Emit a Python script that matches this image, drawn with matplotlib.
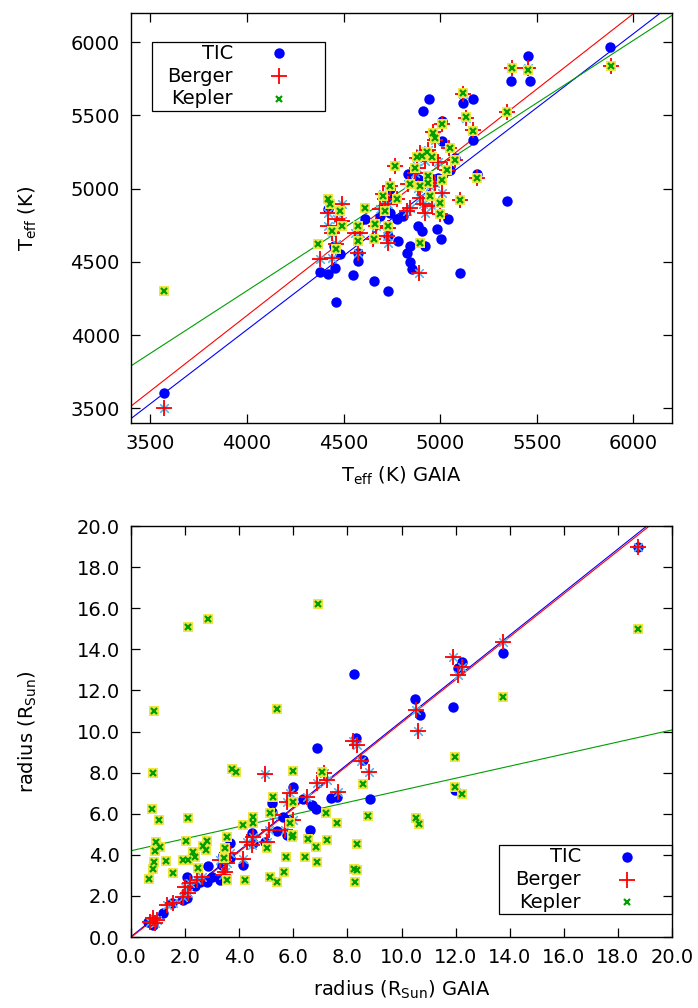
import matplotlib
matplotlib.use("Agg")
import matplotlib.pyplot as plt
import numpy as np
from matplotlib.patches import Rectangle

plt.rcParams['font.family'] = ['DejaVu Sans']
plt.rcParams['mathtext.fontset'] = 'dejavusans'

# ---- top panel: effective temperature ----
teff_tic_x = [3571, 4944, 4910, 5120, 5172, 5365, 5465, 5455, 5879, 5008, 5008, 4965, 5172, 5077,
              5051, 5189, 5348, 4965, 4991, 4836, 4887, 4741, 4715, 4775, 4741, 4810, 4887, 4905,
              4922, 4982, 5005, 5039, 5103, 4844, 4827, 4844, 4853, 4784, 4732, 4655, 4551, 4461,
              4378, 4422, 4456, 4482, 4448, 4422, 4611, 4577, 4577, 4689, 4706, 4732, 4749]
teff_tic_y = [3605, 5615, 5528, 5585, 5615, 5737, 5733, 5907, 5968, 5460, 5324, 5369, 5335, 5210,
              5131, 5097, 4915, 5063, 5074, 5097, 5063, 4995, 4870, 4790, 4836, 4813, 4745, 4711,
              4609, 4722, 4654, 4790, 4427, 4609, 4564, 4500, 4450, 4643, 4302, 4371, 4409, 4223,
              4432, 4416, 4461, 4552, 4609, 4859, 4790, 4507, 4564, 4813, 4859, 4677, 4927]

teff_ber_x = [3571, 5884, 5372, 5455, 5120, 5134, 5348, 5172, 5008, 4962, 4974, 5048, 5077, 5037,
              5103, 5189, 4939, 4896, 4879, 4922, 4965, 4991, 4767, 4879, 4870, 4741, 4836, 4887,
              4948, 4974, 5008, 4956, 4999, 4896, 4913, 4922, 4844, 4827, 4715, 4732, 4689, 4491,
              4422, 4422, 4465, 4491, 4439, 4461, 4378, 4439, 4560, 4585, 4577, 4651, 4732, 4724,
              4668, 4732, 4893, 4706, 4775]
teff_ber_y = [3503, 5839, 5826, 5826, 5649, 5483, 5524, 5403, 5442, 5388, 5335, 5279, 5199, 5131,
              4922, 5074, 5267, 5245, 5210, 5188, 5210, 5181, 5154, 5142, 5108, 5017, 5029, 5006,
              5017, 5040, 4972, 4881, 4825, 4938, 4893, 4836, 4870, 4847, 4927, 4893, 4859, 4893,
              4836, 4745, 4790, 4779, 4700, 4620, 4518, 4529, 4700, 4700, 4564, 4654, 4632, 4677,
              4745, 4734, 4427, 4961, 4927]

teff_kep_x = [3571, 5884, 5372, 5455, 5120, 5134, 5348, 5172, 5008, 4962, 4974, 5051, 5077, 5034,
              5103, 5189, 4931, 4905, 4879, 4956, 4767, 4870, 4741, 4844, 4896, 4939, 4706, 4775,
              4715, 4611, 4422, 4430, 4482, 4439, 4491, 4370, 4461, 4577, 4577, 4663, 4732, 4655,
              4896, 5008, 4999, 4948, 4939, 4999]
teff_kep_y = [4300, 5839, 5826, 5813, 5653, 5490, 5524, 5392, 5444, 5381, 5347, 5279, 5199, 5131,
              4922, 5070, 5249, 5222, 5217, 5217, 5154, 5142, 5017, 5029, 5017, 5040, 4949, 4927,
              4847, 4870, 4927, 4893, 4847, 4711, 4745, 4620, 4586, 4745, 4643, 4756, 4745, 4654,
              4632, 5058, 4904, 4949, 5086, 4825]

# fitted lines (intercept at x0, slope)
teff_fit_tic = [3430, 1.011]
teff_fit_ber = [3515, 1.031]
teff_fit_kep = [3790, 0.855]
teff_fit_x0 = 3400

# ---- bottom panel: radius ----
rad_tic_x = [8.24, 18.75, 13.76, 12.22, 12.10, 10.50, 11.92, 10.68, 8.30, 8.58, 8.84, 6.88, 7.40,
             6.00, 5.20, 5.20, 5.63, 5.85, 5.75, 6.62, 6.84, 6.37, 6.68, 7.63, 4.46, 4.50, 4.95,
             5.39, 3.66, 4.15, 3.35, 2.98, 2.86, 3.29, 2.55, 2.06, 2.37, 2.80, 1.91, 2.06, 1.50,
             1.20, 0.76, 0.64, 0.83, 3.66, 3.41, 11.98]
rad_tic_y = [12.80, 18.96, 13.83, 13.40, 13.07, 11.60, 11.18, 10.80, 9.70, 8.60, 6.70, 9.20, 6.76,
             7.32, 6.54, 6.10, 5.86, 5.69, 4.96, 5.21, 6.21, 6.70, 6.42, 6.80, 5.04, 4.56, 4.64,
             5.17, 4.56, 3.50, 3.50, 2.94, 3.45, 2.77, 2.69, 2.94, 2.48, 2.69, 1.80, 1.88, 1.64,
             1.18, 0.83, 0.75, 0.58, 3.83, 3.99, 7.15]

rad_ber_x = [18.75, 13.76, 11.92, 12.22, 12.10, 10.53, 10.60, 8.20, 8.35, 8.50, 8.80, 7.13, 4.95,
             5.88, 6.49, 7.66, 5.75, 5.26, 5.09, 5.02, 5.69, 6.00, 4.52, 4.28, 4.46, 3.66, 3.54,
             4.15, 3.29, 3.48, 3.41, 2.43, 2.61, 2.18, 1.99, 1.93, 2.12, 1.56, 1.32, 0.83, 0.70,
             0.89, 0.95, 6.86, 7.23]
rad_ber_y = [18.96, 14.37, 13.64, 13.15, 12.75, 11.05, 10.02, 9.54, 9.34, 8.56, 8.05, 7.98, 7.95,
             6.99, 6.83, 7.07, 6.59, 5.94, 5.21, 4.64, 5.21, 5.69, 4.88, 4.64, 4.48, 4.07, 3.58,
             3.78, 3.75, 3.18, 3.02, 2.77, 2.94, 2.61, 2.45, 1.96, 2.12, 1.64, 1.56, 0.91, 0.75,
             0.67, 0.83, 7.51, 7.64]

rad_kep_x = [0.85, 2.11, 2.86, 6.93, 5.39, 18.75, 13.76, 11.98, 11.98, 12.24, 10.53, 10.65, 8.76,
             8.24, 8.28, 0.81, 3.73, 3.88, 7.06, 6.00, 0.76, 1.05, 2.12, 0.92, 0.89, 1.07, 0.85,
             0.83, 0.68, 1.29, 1.54, 2.03, 1.93, 2.12, 2.30, 2.37, 2.65, 2.82, 2.77, 3.54, 3.54,
             4.21, 4.15, 4.50, 4.50, 5.14, 5.39, 5.66, 5.73, 6.00, 6.43, 6.56, 6.84, 6.89, 7.23,
             7.63, 8.56, 8.34, 8.34, 7.21, 6.00, 5.94, 5.88, 5.26, 5.14, 5.02, 3.44, 2.49, 3.47]
rad_kep_y = [11.00, 15.10, 15.50, 16.20, 11.10, 14.99, 11.66, 8.76, 7.30, 6.96, 5.79, 5.50, 5.89,
             3.31, 2.68, 7.98, 8.20, 8.05, 8.03, 8.10, 6.21, 5.69, 5.78, 4.64, 4.20, 4.40, 3.67,
             3.29, 2.81, 3.71, 3.13, 4.69, 3.75, 3.75, 4.15, 3.91, 4.43, 4.67, 4.23, 4.85, 2.77,
             2.77, 5.45, 5.86, 5.53, 2.94, 2.69, 3.18, 3.88, 4.96, 3.91, 4.75, 4.36, 3.67, 4.72,
             5.56, 7.45, 4.51, 3.26, 6.02, 6.59, 4.88, 5.53, 6.83, 6.02, 4.31, 3.83, 3.34, 4.31]

rad_fit_tic = [0.02, 1.048]
rad_fit_ber = [-0.02, 1.045]
rad_fit_kep = [4.2, 0.294]
rad_fit_x0 = 0.0

series_labels = ['TIC', 'Berger', 'Kepler']

BLUE = '#0000ff'
RED = '#ff0000'
GREEN = '#009e00'
LBLUE = '#56b4e9'
YELLOW = '#f0e442'
FS = 14


def draw_points(ax, tx, ty, bx, by, kx, ky):
    ax.plot(tx, ty, 'o', color=BLUE, ms=7.5, mew=0, zorder=3)
    ax.plot(bx, by, ls='none', marker=(8, 2, 0), color=LBLUE, ms=8.5, mew=0.8, zorder=4)
    ax.plot(bx, by, '+', color=RED, ms=12, mew=1.3, zorder=5)
    ax.plot(kx, ky, 's', color=YELLOW, ms=7, mew=0, zorder=6)
    ax.plot(kx, ky, 'x', color=GREEN, ms=5, mew=1.6, zorder=7)


def draw_fits(ax, x0, fits, xmax):
    xs = np.array([x0 - 1000, xmax + 1000])
    for (b, m), c in zip(fits, [BLUE, RED, GREEN]):
        ax.plot(xs, b + m * (xs - x0), '-', color=c, lw=0.8, zorder=2)


def draw_key(ax, box, text_x, mark_x, rows):
    x0, y0, x1, y1 = box
    ax.add_patch(Rectangle((x0, y0), x1 - x0, y1 - y0, transform=ax.transAxes,
                           fill=False, ec='black', lw=0.9, clip_on=False, zorder=10))
    styles = [dict(marker='o', color=BLUE, ms=7.5, mew=0),
              dict(marker='+', color=RED, ms=12, mew=1.3),
              dict(marker='x', color=GREEN, ms=5, mew=1.6)]
    for lab, yy, st in zip(series_labels, rows, styles):
        ax.text(text_x, yy, lab, transform=ax.transAxes, ha='right', va='center', fontsize=FS, zorder=11)
        ax.plot([mark_x], [yy], ls='none', transform=ax.transAxes, clip_on=False, zorder=11, **st)


def style_axes(ax):
    for s in ax.spines.values():
        s.set_linewidth(1.0)
    ax.tick_params(direction='in', length=6.5, width=0.9, top=True, right=True,
                   labelsize=FS, pad=8)


fig = plt.figure(figsize=(6.98, 10.08), dpi=100)

# top panel
ax1 = fig.add_axes([0.1877, 0.5804, 0.7751, 0.4067])
draw_fits(ax1, teff_fit_x0, [teff_fit_tic, teff_fit_ber, teff_fit_kep], 6200)
draw_points(ax1, teff_tic_x, teff_tic_y, teff_ber_x, teff_ber_y, teff_kep_x, teff_kep_y)
ax1.set_xlim(3400, 6200)
ax1.set_ylim(3400, 6200)
ax1.set_xticks([3500, 4000, 4500, 5000, 5500, 6000])
ax1.set_yticks([3500, 4000, 4500, 5000, 5500, 6000])
style_axes(ax1)
ax1.set_xlabel(r'T$_{\mathrm{eff}}$ (K) GAIA', fontsize=FS)
ax1.set_ylabel(r'T$_{\mathrm{eff}}$ (K)', fontsize=FS)
ax1.xaxis.set_label_coords(0.5, -0.102)
ax1.yaxis.set_label_coords(-0.17, 0.5)
draw_key(ax1, (0.0388, 0.761, 0.3586, 0.929), 0.1885, 0.2736, [0.902, 0.846, 0.791])

# bottom panel
ax2 = fig.add_axes([0.1877, 0.0704, 0.7751, 0.4077])
draw_fits(ax2, rad_fit_x0, [rad_fit_tic, rad_fit_ber, rad_fit_kep], 20)
draw_points(ax2, rad_tic_x, rad_tic_y, rad_ber_x, rad_ber_y, rad_kep_x, rad_kep_y)
ax2.set_xlim(0, 20)
ax2.set_ylim(0, 20)
ax2.set_xticks(np.arange(0, 21, 2))
ax2.set_yticks(np.arange(0, 21, 2))
ax2.xaxis.set_major_formatter(matplotlib.ticker.FormatStrFormatter('%.1f'))
ax2.yaxis.set_major_formatter(matplotlib.ticker.FormatStrFormatter('%.1f'))
style_axes(ax2)
ax2.set_xlabel(r'radius (R$_{\mathrm{Sun}}$) GAIA', fontsize=FS)
ax2.set_ylabel(r'radius (R$_{\mathrm{Sun}}$)', fontsize=FS)
ax2.xaxis.set_label_coords(0.5, -0.102)
ax2.yaxis.set_label_coords(-0.17, 0.5)
draw_key(ax2, (0.680, 0.056, 1.0, 0.224), 0.832, 0.917, [0.195, 0.139, 0.085])

fig.savefig('out.png', dpi=100)
